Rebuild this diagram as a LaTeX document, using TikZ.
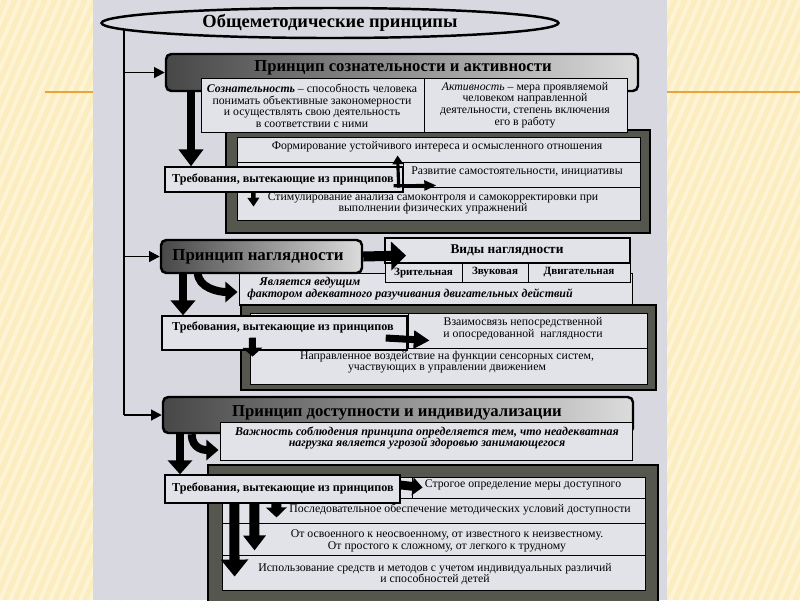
\documentclass[tikz,border=0pt]{standalone}
\usepackage{fontspec}
\setmainfont{Liberation Serif}
\usetikzlibrary{positioning,arrows.meta,fit,calc,shapes.geometric}
\definecolor{cream}{HTML}{FBEDC0}
\definecolor{stripe}{HTML}{FDF4D6}
\definecolor{rule}{HTML}{E9A43C}
\definecolor{paper}{HTML}{D8D8E0}
\definecolor{cell}{HTML}{E2E2E9}
\definecolor{frameclr}{HTML}{55574E}
\tikzset{
  princ/.style={draw=black, line width=1.4pt, rounded corners=3pt, left color=black!72, right color=black!14, inner sep=0pt},
  cellbox/.style={draw=black, line width=0.5pt, fill=cell, inner sep=0pt},
  reqbox/.style={cellbox, line width=0.8pt},
  framebox/.style={draw=black, line width=0.6pt, fill=frameclr, inner sep=0pt},
  ptitle/.style={font=\bfseries\fontsize{9.5}{10}\selectfont, inner sep=0pt},
  txt/.style={font=\fontsize{6.7}{6.6}\selectfont, align=center, inner sep=0pt},
  btxt/.style={font=\bfseries\fontsize{6.9}{7}\selectfont, align=center, inner sep=0pt},
  itxt/.style={font=\bfseries\itshape\fontsize{6.8}{6.8}\selectfont, align=center, inner sep=0pt},
  feed/.style={line width=1.1pt, -{Triangle[length=6pt,width=6pt]}},
  shaft/.style n args={3}{line width=#1, -{Triangle[width=#2,length=#3]}}
}
\begin{document}
\begin{tikzpicture}[x=0.02cm, y=-0.02cm]
  \useasboundingbox (0,0) rectangle (800,600);
  \clip (0,0) rectangle (800,600);
  % slide background
  \fill[cream] (0,0) rectangle (800,600);
  \foreach \s in {-320,-310,...,800} \draw[stripe, line width=2.2pt] (\s,600) -- (\s+260,0);
  \draw[rule, line width=1.2pt] (45,92) -- (93,92) (667,92) -- (800,92);
  \fill[paper] (93,0) rectangle (667,600);

  \node[draw, ellipse, line width=1.4pt, minimum width=9.14cm, minimum height=0.6cm, inner sep=0pt,
        font=\bfseries\fontsize{10.5}{12}\selectfont] (top) at (330,23) {Общеметодические принципы};
  \coordinate (trunk) at (top.182);

  % principle 1
  \node[princ, fit={(166,54)(638,91)}] (p1) {};
  \node[ptitle] (p1t) at (403,68) {Принцип сознательности и активности};
  \node[framebox, fit={(226,130)(650,233)}] (f1) {};
  \node[cellbox, fit={(201,78)(424,132)}] (d1) {};
  \node[cellbox, fit={(424,78)(627,132)}] (d2) {};
  \node[txt] (d1t) at (312,106) {\textbf{\textit{Сознательность}} – способность человека\\понимать объективные закономерности\\и осуществлять свою деятельность\\в соответствии с ними};
  \node[txt] (d2t) at (525,105) {\textit{Активность} – мера проявляемой\\человеком направленной\\деятельности, степень включения\\его в работу};
  \node[cellbox, fit={(237,137)(640,220)}] (f1in) {};
  \node[cellbox, fit={(237,137)(640,162)}] (r11) {};
  \node[cellbox, fit={(403,162)(640,187)}] (r12) {};
  \node[cellbox, fit={(237,187)(640,220)}] (r13) {};
  \node[txt] (r11t) at (437,147) {Формирование устойчивого интереса и осмысленного отношения};
  \node[txt] (r12t) at (517,172) {Развитие самостоятельности, инициативы};
  \node[txt] (r13t) at (433,203.5) {Стимулирование анализа самоконтроля и самокорректировки при\\выполнении физических упражнений};
  \node[reqbox, fit={(165,167)(403,192)}] (q1) {};
  \node[btxt] (q1t) at (283,179) {Требования, вытекающие из принципов};
  \coordinate (a1) at (191,0);
  \draw[shaft={4.5pt}{13.7pt}{9.7pt}] (a1 |- p1.south) -- (a1 |- q1.north);
  \draw[shaft={1.8pt}{6pt}{5pt}] ($(q1.south east)+(-5,-5)$) -- ($(r11.south west)+(161,-7)$);
  \draw[shaft={1.8pt}{5.5pt}{7pt}] ($(q1.south east)+(-10,-7)$) -- ($(r12.south west)+(34,-2)$);
  \draw[shaft={2.5pt}{6.5pt}{5pt}] ($(q1.south west)+(89,0)$) -- ($(r13.north west)+(17,20)$);

  % principle 2
  \node[cellbox, fit={(239,273)(632,305)}] (v2) {};
  \node[itxt] (v2a) at (310,283) {Является ведущим};
  \node[itxt] (v2b) at (410,294) {фактором адекватного разучивания двигательных действий};
  \node[cellbox, line width=1.1pt, fit={(385,238)(630,263)}] (k0) {};
  \node[cellbox, fit={(385,263)(462,282)}] (k1) {};
  \node[cellbox, fit={(462,263)(528,282)}] (k2) {};
  \node[cellbox, fit={(528,263)(630,282)}] (k3) {};
  \node[btxt, font=\bfseries\fontsize{7.6}{8}\selectfont] (k0t) at (507,250) {Виды наглядности};
  \node[btxt, font=\bfseries\fontsize{6.3}{7}\selectfont] (k1t) at (k1) {Зрительная};
  \node[btxt, font=\bfseries\fontsize{6.3}{7}\selectfont] (k2t) at (k2) {Звуковая};
  \node[btxt, font=\bfseries\fontsize{6.3}{7}\selectfont] (k3t) at (k3) {Двигательная};
  \node[princ, fit={(161,240)(362,273)}] (p2) {};
  \node[ptitle, font=\bfseries\fontsize{9.6}{11}\selectfont] (p2t) at (258,257) {Принцип наглядности};
  \draw[shaft={5.7pt}{16pt}{8.5pt}] (p2.east) -- ($(k0.west)+(22,5)$);
  \draw[shaft={4.5pt}{11.5pt}{7pt}] ($(p2.south west)+(38,-2)$) .. controls +(0,16) and +(-18,0) .. ($(v2.west)+(-1,3)$);
  \node[framebox, fit={(241,305)(656,390)}] (f2) {};
  \node[cellbox, fit={(250,313)(647,384)}] (f2in) {};
  \node[cellbox, fit={(408,313)(647,348)}] (r21) {};
  \node[cellbox, fit={(250,348)(647,384)}] (r22) {};
  \node[txt] (r21t) at (523,328.5) {Взаимосвязь непосредственной\\и опосредованной\enspace наглядности};
  \node[txt] (r22t) at (447,362) {Направленное воздействие на функции сенсорных систем,\\участвующих в управлении движением};
  \node[reqbox, fit={(162,316)(407,350)}] (q2) {};
  \node[btxt] (q2t) at (283,327) {Требования, вытекающие из принципов};
  \coordinate (a2) at (183,0);
  \draw[shaft={4.5pt}{13.7pt}{8.5pt}] (a2 |- p2.south) -- (a2 |- q2.north);
  \draw[shaft={4pt}{10pt}{9pt}] ($(q2.east)+(-22,5)$) -- ($(r21.west)+(22,10)$);
  \draw[shaft={4pt}{11pt}{5pt}] ($(q2.south west)+(91,-13)$) -- ($(r22.north west)+(3,9)$);

  % principle 3
  \node[princ, fit={(163,397)(633,433)}] (p3) {};
  \node[ptitle] (p3t) at (397,413) {Принцип доступности и индивидуализации};
  \node[cellbox, fit={(220,422)(632,460)}] (i3) {};
  \node[itxt] (i3t) at (427,438) {Важность соблюдения принципа определяется тем, что неадекватная\\нагрузка является угрозой здоровью занимающегося};
  \draw[shaft={4.5pt}{11.5pt}{7pt}] ($(p3.south west)+(30,0)$) .. controls +(0,15) and +(-14,0) .. ($(i3.west)+(-1,9)$);
  \node[framebox, fit={(208,465)(658,606)}] (f3) {};
  \node[cellbox, fit={(222,477)(645,590)}] (f3in) {};
  \node[cellbox, fit={(412,477)(645,498)}] (r31) {};
  \node[cellbox, fit={(222,498)(645,523)}] (r32) {};
  \node[cellbox, fit={(222,523)(645,555)}] (r33) {};
  \node[cellbox, fit={(222,555)(645,590)}] (r34) {};
  \node[txt] (r31t) at (523,485) {Строгое определение меры доступного};
  \node[txt] (r32t) at (460,510) {Последовательное обеспечение методических условий доступности};
  \node[txt] (r33t) at (447,541) {От освоенного к неосвоенному, от известного к неизвестному.\\От простого к сложному, от легкого к трудному};
  \node[txt] (r34t) at (435,574) {Использование средств и методов с учетом индивидуальных различий\\и способностей детей};
  \node[reqbox, fit={(165,475)(400,503)}] (q3) {};
  \node[btxt] (q3t) at (283,488) {Требования, вытекающие из принципов};
  \coordinate (a3) at (180,0);
  \draw[shaft={4.5pt}{13.7pt}{8pt}] (a3 |- p3.south) -- (a3 |- q3.north);
  \draw[shaft={5pt}{10pt}{5.7pt}] (q3.east |- r31t) -- ($(r31.west)+(11,0)$);
  \draw[shaft={5.7pt}{11.5pt}{5.7pt}] ($(q3.south west)+(112,0)$) -- ($(r32.south west)+(55,-6)$);
  \draw[shaft={5.7pt}{12.5pt}{8.5pt}] ($(q3.south west)+(90,0)$) -- ($(r33.south west)+(33,-5)$);
  \draw[shaft={5.7pt}{15pt}{9.7pt}] ($(q3.south west)+(70,0)$) -- ($(r34.north west)+(13,22)$);

  % links from the heading
  \draw[line width=1.1pt] (trunk) -- (trunk |- p3.west);
  \draw[feed] (trunk |- p1.west) -- (p1.west);
  \draw[feed] (trunk |- p2.west) -- (p2.west);
  \draw[feed] (trunk |- p3.west) -- (p3.west);
\end{tikzpicture}
\end{document}
